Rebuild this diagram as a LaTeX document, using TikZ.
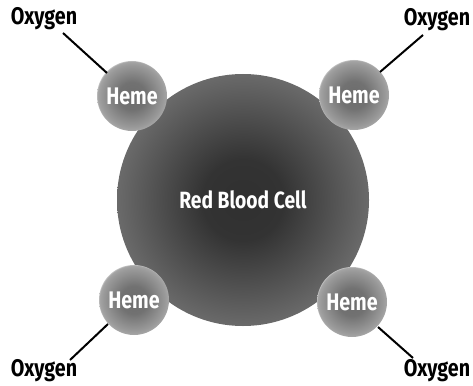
\documentclass[tikz,border=0pt]{standalone}
\usepackage{fontspec}
\setmainfont{Fira Sans}[FakeStretch=0.82]
\newfontfamily\lblfont{Fira Sans}[FakeStretch=0.82,UprightFont=* Bold]
\usetikzlibrary{positioning}
\definecolor{cellin}{HTML}{303030}
\definecolor{cellout}{HTML}{6A6A6A}
\definecolor{hemein}{HTML}{6C6C6C}
\definecolor{hemeout}{HTML}{A4A4A4}
\pgfdeclareradialshading{cellshade}{\pgfpoint{0bp}{0bp}}{color(0bp)=(cellin); color(8bp)=(cellin!95!cellout); color(25bp)=(cellout); color(50bp)=(cellout)}
\pgfdeclareradialshading{hemeshade}{\pgfpoint{0bp}{0bp}}{color(0bp)=(hemein); color(10bp)=(hemein!90!hemeout); color(22bp)=(hemeout!80!hemein); color(24.5bp)=(hemeout); color(25bp)=(hemeout!70!white); color(50bp)=(white)}
\tikzset{
  cell/.style={circle, minimum size=252pt, inner sep=0pt, shading=cellshade, text=white, font=\lblfont\fontsize{23.5pt}{26pt}\selectfont},
  heme/.style={circle, minimum size=70pt, inner sep=0pt, shading=hemeshade, text=white, font=\lblfont\fontsize{24pt}{26pt}\selectfont},
  oxy/.style={inner sep=0pt, text=black, font=\lblfont\fontsize{24pt}{26pt}\selectfont},
  link/.style={draw=black, line width=2pt}
}
\begin{document}
\begin{tikzpicture}[x=1pt,y=-1pt]
\useasboundingbox (0,0) rectangle (473,385);
\node[cell] (rbc) at (243,200) {Red Blood Cell};
\node[heme] (h1) at (132,96) {Heme};
\node[heme] (h2) at (354,95) {Heme};
\node[heme] (h3) at (134,300) {Heme};
\node[heme] (h4) at (352,302) {Heme};
\node[oxy] (o1) at (44,19) {Oxygen};
\node[oxy] (o2) at (437,20) {Oxygen};
\node[oxy] (o3) at (44,371) {Oxygen};
\node[oxy] (o4) at (437,371) {Oxygen};
\coordinate (a1) at (63,33);
\coordinate (b1) at (107,73);
\coordinate (a2) at (423,35);
\coordinate (b2) at (380,72);
\coordinate (a3) at (70,360);
\coordinate (b3) at (108,324);
\coordinate (a4) at (413,358);
\coordinate (b4) at (378,327);
\draw[link] (a1) -- (b1);
\draw[link] (a2) -- (b2);
\draw[link] (a3) -- (b3);
\draw[link] (a4) -- (b4);
\end{tikzpicture}
\end{document}
